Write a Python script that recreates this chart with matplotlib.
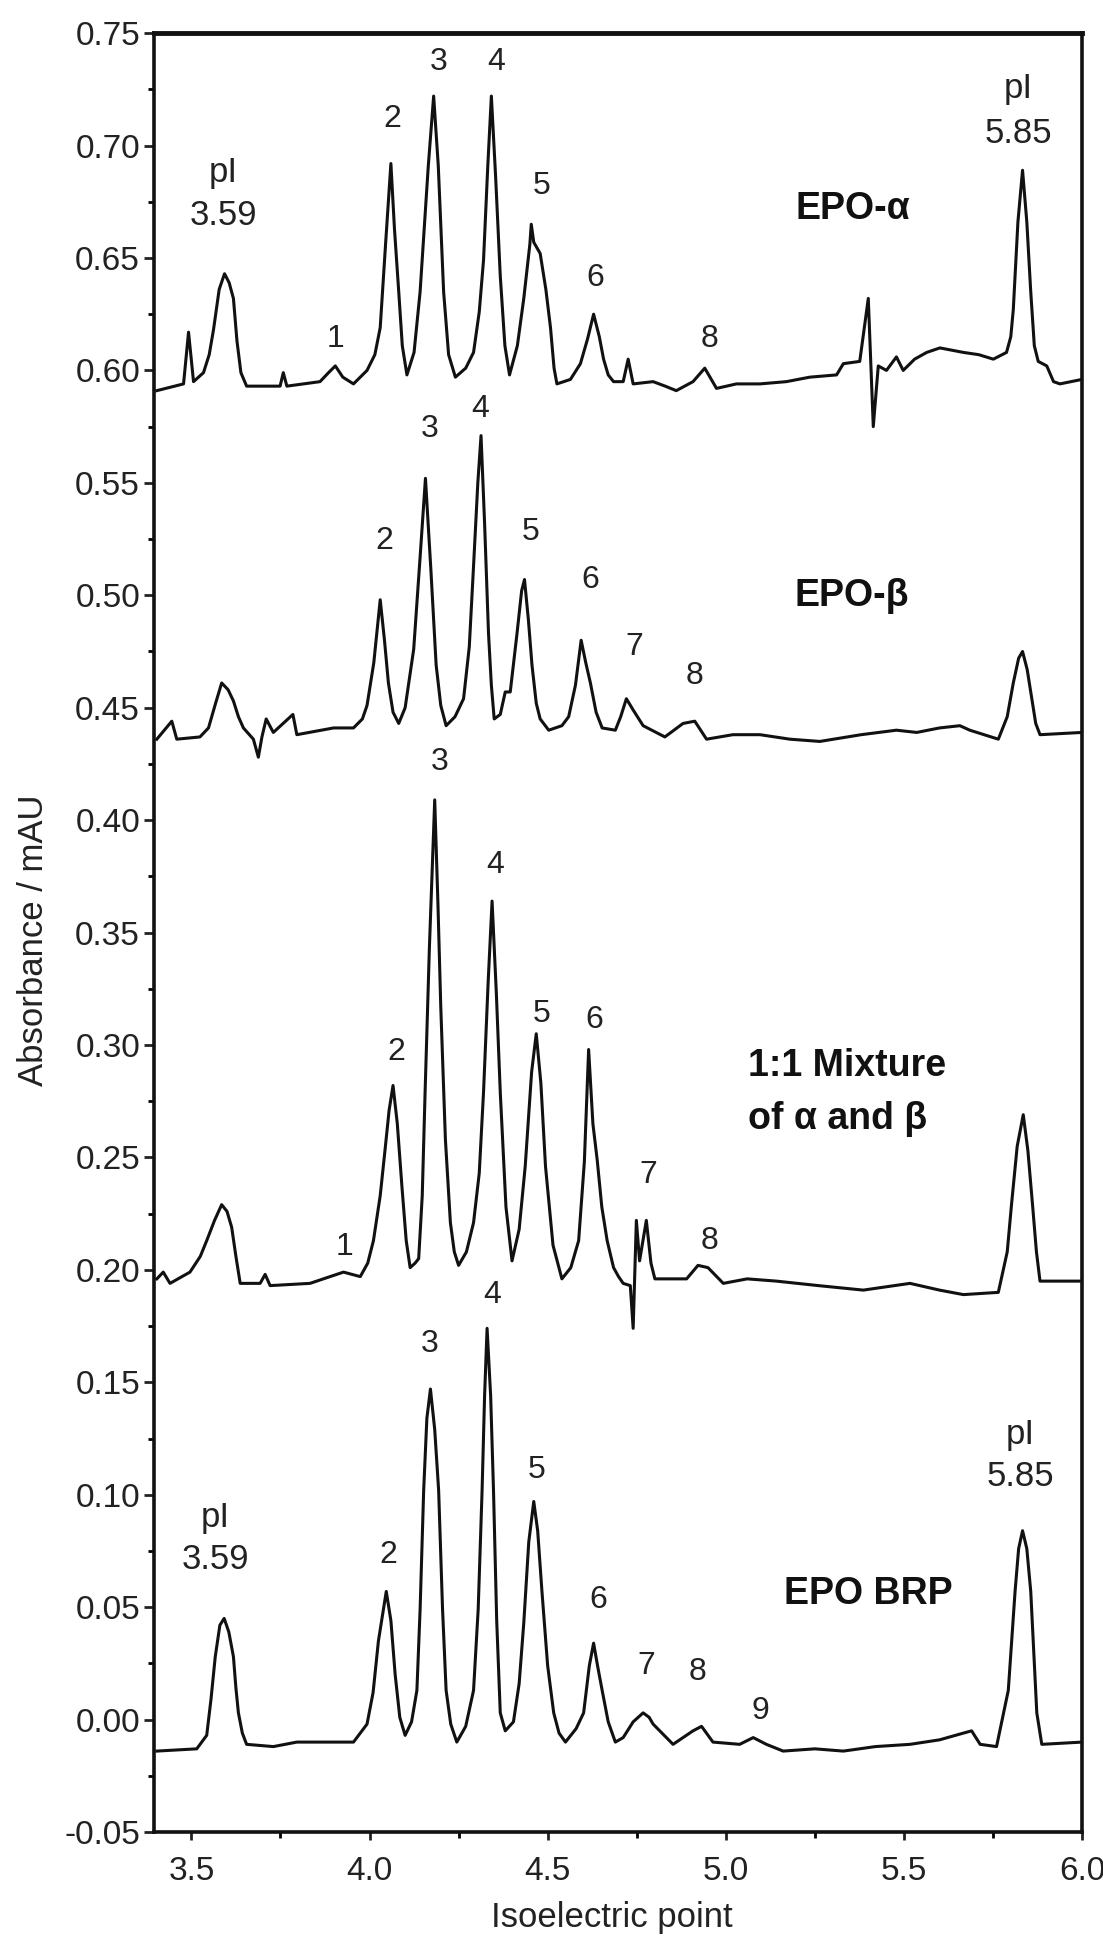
import matplotlib
matplotlib.use("Agg")
import matplotlib.pyplot as plt
from matplotlib.ticker import MultipleLocator, FormatStrFormatter

plt.rcParams['font.family'] = ['Liberation Sans', 'DejaVu Sans']
plt.rcParams['axes.unicode_minus'] = False

# --- traces: (pI, absorbance) ---
alpha_pts = [(3.403, .591), (3.478, .594), (3.492, .617), (3.506, .595), (3.534, .599),
             (3.550, .607), (3.562, .618), (3.578, .636), (3.593, .643), (3.606, .639),
             (3.618, .632), (3.628, .613), (3.639, .599), (3.655, .593), (3.749, .593),
             (3.758, .599), (3.768, .593), (3.861, .595), (3.885, .599), (3.904, .602),
             (3.925, .597), (3.955, .594), (3.993, .600), (4.015, .607), (4.030, .619),
             (4.045, .656), (4.060, .692), (4.070, .663), (4.082, .635), (4.092, .611),
             (4.105, .598), (4.125, .608), (4.142, .635), (4.165, .691), (4.180, .722),
             (4.193, .691), (4.208, .635), (4.222, .607), (4.241, .597), (4.270, .601),
             (4.292, .608), (4.308, .626), (4.320, .649), (4.332, .691), (4.342, .722),
             (4.354, .686), (4.367, .642), (4.380, .611), (4.393, .598), (4.415, .611),
             (4.433, .632), (4.450, .656), (4.454, .665), (4.461, .657), (4.479, .652),
             (4.495, .636), (4.508, .619), (4.518, .601), (4.526, .594), (4.564, .596),
             (4.592, .603), (4.612, .614), (4.629, .625), (4.645, .615), (4.657, .605),
             (4.670, .598), (4.685, .595), (4.712, .595), (4.726, .605), (4.740, .594),
             (4.796, .595), (4.830, .593), (4.861, .591), (4.908, .595), (4.941, .601),
             (4.974, .592), (5.030, .594), (5.096, .594), (5.170, .595), (5.236, .597),
             (5.311, .598), (5.330, .603), (5.376, .604), (5.400, .632), (5.414, .575),
             (5.428, .602), (5.451, .600), (5.479, .606), (5.498, .600), (5.530, .605),
             (5.564, .608), (5.601, .610), (5.667, .608), (5.710, .607), (5.751, .605),
             (5.788, .608), (5.800, .615), (5.807, .627), (5.820, .666), (5.833, .689),
             (5.845, .666), (5.856, .635), (5.866, .611), (5.877, .604), (5.901, .602),
             (5.920, .595), (5.938, .594), (6.000, .596)]

beta_pts = [(3.403, .436), (3.445, .444), (3.459, .436), (3.524, .437), (3.548, .441),
            (3.568, .452), (3.585, .461), (3.603, .458), (3.618, .453), (3.632, .446),
            (3.646, .441), (3.674, .436), (3.688, .428), (3.698, .437), (3.710, .445),
            (3.730, .439), (3.785, .447), (3.796, .438), (3.899, .441), (3.955, .441),
            (3.980, .445), (3.993, .451), (4.012, .470), (4.030, .498), (4.042, .480),
            (4.053, .461), (4.066, .448), (4.082, .443), (4.100, .450), (4.124, .476),
            (4.142, .517), (4.157, .552), (4.172, .512), (4.187, .469), (4.200, .451),
            (4.215, .442), (4.240, .446), (4.264, .454), (4.280, .477), (4.292, .513),
            (4.304, .550), (4.313, .571), (4.323, .532), (4.334, .483), (4.342, .460),
            (4.350, .445), (4.367, .447), (4.381, .457), (4.395, .457), (4.414, .483),
            (4.427, .502), (4.435, .507), (4.446, .489), (4.456, .469), (4.468, .452),
            (4.479, .445), (4.503, .440), (4.540, .442), (4.559, .446), (4.578, .460),
            (4.594, .480), (4.607, .470), (4.620, .461), (4.636, .448), (4.653, .441),
            (4.690, .440), (4.705, .446), (4.721, .454), (4.740, .449), (4.768, .442),
            (4.829, .437), (4.880, .443), (4.913, .444), (4.946, .436), (5.020, .438),
            (5.096, .438), (5.180, .436), (5.264, .435), (5.380, .438), (5.479, .440),
            (5.536, .439), (5.600, .441), (5.657, .442), (5.685, .440), (5.765, .436),
            (5.790, .446), (5.807, .461), (5.822, .472), (5.833, .475), (5.846, .467),
            (5.859, .454), (5.870, .443), (5.882, .438), (6.000, .439)]

mix_pts = [(3.403, .196), (3.421, .199), (3.440, .194), (3.496, .199), (3.525, .206),
           (3.543, .213), (3.565, .222), (3.585, .229), (3.600, .226), (3.613, .219),
           (3.625, .206), (3.637, .194), (3.693, .194), (3.707, .198), (3.721, .193),
           (3.833, .194), (3.908, .198), (3.927, .199), (3.974, .197), (3.995, .203),
           (4.011, .213), (4.030, .233), (4.044, .254), (4.055, .271), (4.066, .282),
           (4.078, .265), (4.091, .237), (4.103, .213), (4.114, .201), (4.128, .203),
           (4.138, .205), (4.148, .233), (4.156, .279), (4.168, .343), (4.183, .409),
           (4.192, .363), (4.200, .317), (4.213, .258), (4.227, .221), (4.238, .208),
           (4.250, .202), (4.272, .208), (4.292, .221), (4.308, .243), (4.320, .279),
           (4.333, .328), (4.344, .364), (4.356, .323), (4.367, .279), (4.383, .228),
           (4.400, .204), (4.420, .218), (4.437, .246), (4.455, .288), (4.468, .305),
           (4.481, .283), (4.494, .246), (4.515, .211), (4.540, .196), (4.565, .201),
           (4.587, .213), (4.603, .248), (4.615, .298), (4.627, .265), (4.639, .249),
           (4.652, .228), (4.667, .213), (4.685, .201), (4.699, .197), (4.712, .194),
           (4.732, .193), (4.740, .174), (4.749, .222), (4.758, .204), (4.777, .222),
           (4.790, .203), (4.801, .196), (4.890, .196), (4.922, .202), (4.950, .201),
           (4.993, .194), (5.060, .196), (5.142, .195), (5.260, .193), (5.386, .191),
           (5.517, .194), (5.600, .191), (5.667, .189), (5.765, .190), (5.790, .208),
           (5.802, .229), (5.818, .255), (5.835, .269), (5.848, .253), (5.861, .229),
           (5.872, .208), (5.882, .195), (6.000, .195)]

brp_pts = [(3.403, -.014), (3.515, -.013), (3.543, -.007), (3.555, .009), (3.567, .028),
           (3.580, .042), (3.592, .045), (3.605, .039), (3.618, .028), (3.625, .014),
           (3.632, .003), (3.643, -.006), (3.655, -.011), (3.730, -.012), (3.796, -.010),
           (3.955, -.010), (3.993, -.002), (4.010, .012), (4.025, .035), (4.047, .057),
           (4.060, .044), (4.072, .020), (4.085, .001), (4.100, -.007), (4.118, -.001),
           (4.133, .013), (4.142, .049), (4.152, .102), (4.161, .134), (4.171, .147),
           (4.183, .129), (4.194, .102), (4.205, .049), (4.215, .013), (4.228, -.002),
           (4.245, -.010), (4.270, -.003), (4.292, .013), (4.305, .049), (4.316, .102),
           (4.323, .144), (4.330, .174), (4.340, .144), (4.348, .102), (4.357, .044),
           (4.367, .003), (4.381, -.005), (4.404, -.001), (4.420, .016), (4.433, .043),
           (4.447, .079), (4.461, .097), (4.472, .084), (4.484, .057), (4.500, .024),
           (4.517, .003), (4.532, -.006), (4.550, -.010), (4.580, -.004), (4.601, .003),
           (4.617, .024), (4.629, .034), (4.640, .024), (4.653, .013), (4.670, -.001),
           (4.690, -.010), (4.712, -.008), (4.740, -.001), (4.768, .003), (4.785, .001),
           (4.796, -.002), (4.852, -.011), (4.908, -.005), (4.932, -.003), (4.964, -.010),
           (5.039, -.011), (5.077, -.008), (5.114, -.011), (5.161, -.014), (5.250, -.013),
           (5.330, -.014), (5.420, -.012), (5.517, -.011), (5.600, -.009), (5.667, -.006),
           (5.690, -.005), (5.714, -.011), (5.760, -.012), (5.793, .013), (5.812, .057),
           (5.822, .076), (5.833, .084), (5.845, .076), (5.856, .057), (5.873, .003),
           (5.887, -.011), (6.000, -.010)]

# peak numbers: label, x, y
peak_txt = ["1", "2", "3", "4", "5", "6", "8",
            "2", "3", "4", "5", "6", "7", "8",
            "1", "2", "3", "4", "5", "6", "7", "8",
            "2", "3", "4", "5", "6", "7", "8", "9"]
peak_x = [3.904, 4.063, 4.195, 4.356, 4.484, 4.634, 4.955,
          4.042, 4.170, 4.311, 4.451, 4.619, 4.744, 4.913,
          3.931, 4.074, 4.198, 4.353, 4.484, 4.631, 4.782, 4.955,
          4.053, 4.170, 4.343, 4.470, 4.643, 4.777, 4.922, 5.096]
peak_y = [0.614, 0.712, 0.737, 0.737, 0.682, 0.641, 0.614,
          0.524, 0.574, 0.583, 0.528, 0.507, 0.477, 0.464,
          0.210, 0.297, 0.426, 0.380, 0.314, 0.311, 0.242, 0.213,
          0.073, 0.167, 0.189, 0.111, 0.053, 0.024, 0.021, 0.004]

# pI marker labels
pi_txt = ["pI", "3.59", "pI", "5.85", "pI", "3.59", "pI", "5.85"]
pi_x = [3.590, 3.590, 5.821, 5.821, 3.567, 3.567, 5.826, 5.826]
pi_y = [0.688, 0.669, 0.7255, 0.7055, 0.090, 0.071, 0.1267, 0.108]

# sample names
name_txt = ["EPO-α", "EPO-β", "1:1 Mixture", "of α and β", "EPO BRP"]
name_x = [5.357, 5.354, 5.062, 5.062, 5.399]
name_y = [0.6718, 0.4997, 0.2908, 0.2671, 0.0560]
name_ha = ["center", "center", "left", "left", "center"]

x_ticks = [3.5, 4.0, 4.5, 5.0, 5.5, 6.0]

fig = plt.figure(figsize=(11.03, 19.36), dpi=100)
ax = fig.add_axes([0.1396, 0.0537, 0.8414, 0.9292])

for pts in [alpha_pts, beta_pts, mix_pts, brp_pts]:
    xs, ys = zip(*pts)
    ax.plot(xs, ys, color="#111111", lw=2.2, solid_joinstyle="round")

for t, x, y in zip(peak_txt, peak_x, peak_y):
    ax.text(x, y, t, fontsize=23, ha="center", va="center", color="#222222")
for t, x, y in zip(pi_txt, pi_x, pi_y):
    ax.text(x, y, t, fontsize=25, ha="center", va="center", color="#222222")
for t, x, y, ha in zip(name_txt, name_x, name_y, name_ha):
    ax.text(x, y, t, fontsize=27, fontweight="bold", ha=ha, va="center", color="#111111")

ax.set_xlim(3.395, 6.0)
ax.set_ylim(-0.05, 0.75)
ax.set_xticks(x_ticks)
ax.xaxis.set_major_formatter(FormatStrFormatter("%.1f"))
ax.xaxis.set_minor_locator(MultipleLocator(0.25))
ax.yaxis.set_major_locator(MultipleLocator(0.05))
ax.yaxis.set_minor_locator(MultipleLocator(0.025))
ax.yaxis.set_major_formatter(FormatStrFormatter("%.2f"))

ax.tick_params(axis="both", which="major", direction="out", width=2.0,
               labelsize=24, colors="#222222")
ax.tick_params(axis="x", which="major", length=6, pad=11)
ax.tick_params(axis="y", which="major", length=7, pad=3)
ax.tick_params(axis="both", which="minor", direction="out", width=2.0, length=4)
for s in ax.spines.values():
    s.set_linewidth(2.6)
    s.set_color("#111111")
ax.spines["top"].set_linewidth(3.5)

fig.text(34 / 1103, 1 - 940 / 1936, "Absorbance / mAU", rotation=90,
         ha="center", va="center", fontsize=25, color="#222222")
fig.text(612 / 1103, 1 - 1917 / 1936, "Isoelectric point",
         ha="center", va="center", fontsize=25, color="#222222")

fig.savefig("out.png", dpi=100)
